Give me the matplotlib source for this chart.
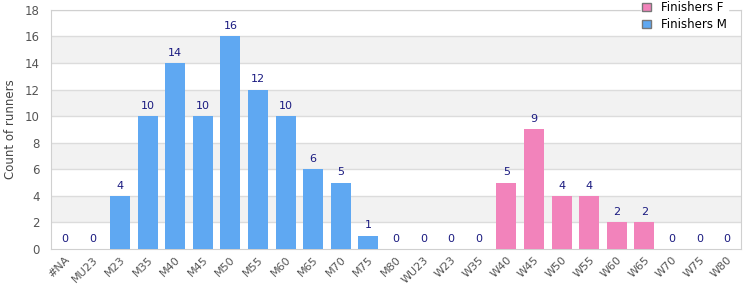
import matplotlib
matplotlib.use('Agg')
from matplotlib import pyplot as plt
from matplotlib.patches import Patch

# Data
categories = ['#NA', 'MU23', 'M23', 'M35', 'M40', 'M45', 'M50', 'M55', 'M60', 'M65', 'M70', 'M75', 'M80',
              'WU23', 'W23', 'W35', 'W40', 'W45', 'W50', 'W55', 'W60', 'W65', 'W70', 'W75', 'W80']
finishers_m = [0, 0, 4, 10, 14, 10, 16, 12, 10, 6, 5, 1, 0, 0, 0, 0, 0, 0, 0, 0, 0, 0, 0, 0, 0]
finishers_f = [0, 0, 0, 0, 0, 0, 0, 0, 0, 0, 0, 0, 0, 0, 0, 0, 5, 9, 4, 4, 2, 2, 0, 0, 0]
labels = [0, 0, 4, 10, 14, 10, 16, 12, 10, 6, 5, 1, 0, 0, 0, 0, 5, 9, 4, 4, 2, 2, 0, 0, 0]

col_m = '#5fa8f2'
col_f = '#f283bb'

fig = plt.figure(figsize=(7.5, 3.0), dpi=100)
ax = fig.add_axes([0.068, 0.17, 0.92, 0.797])

x = list(range(len(categories)))
ax.bar(x, finishers_m, width=0.72, color=col_m, zorder=3)
ax.bar(x, finishers_f, width=0.72, color=col_f, zorder=3)

# Alternating bands
for lo in [2, 6, 10, 14]:
    ax.axhspan(lo, lo + 2, color='#f2f2f2', zorder=0, lw=0)
for y in range(2, 19, 2):
    ax.axhline(y, color='#dcdcdc', lw=1, zorder=1)

for xi, v in zip(x, labels):
    ax.text(xi, v + 0.4, str(v), ha='center', va='bottom', fontsize=8, color='#1a1a80', zorder=4)

ax.set_xlim(-0.5, len(categories) - 0.5)
ax.set_ylim(0, 18)
ax.set_yticks(range(0, 19, 2))
ax.set_xticks(x)
ax.set_xticklabels(categories, rotation=45, ha='right', rotation_mode='anchor', fontsize=8, color='#555555')
ax.tick_params(axis='y', labelsize=8.5, colors='#555555', length=0, pad=8)
ax.tick_params(axis='x', length=0, pad=4)
ax.set_ylabel('Count of runners', fontsize=8.5, color='#444444', labelpad=6)
for s in ax.spines.values():
    s.set_color('#d0d0d0')

handles = [Patch(facecolor=col_f, edgecolor='#777777', label='Finishers F'),
           Patch(facecolor=col_m, edgecolor='#777777', label='Finishers M')]
leg = ax.legend(handles=handles, loc='upper right', bbox_to_anchor=(0.99, 1.065), fontsize=8.5,
                frameon=True, fancybox=False, framealpha=1, edgecolor='white',
                handlelength=0.7, handleheight=0.7, handletextpad=0.9, borderpad=0.1, labelspacing=0.3)
leg.set_zorder(5)

fig.savefig('out.png', dpi=100)
